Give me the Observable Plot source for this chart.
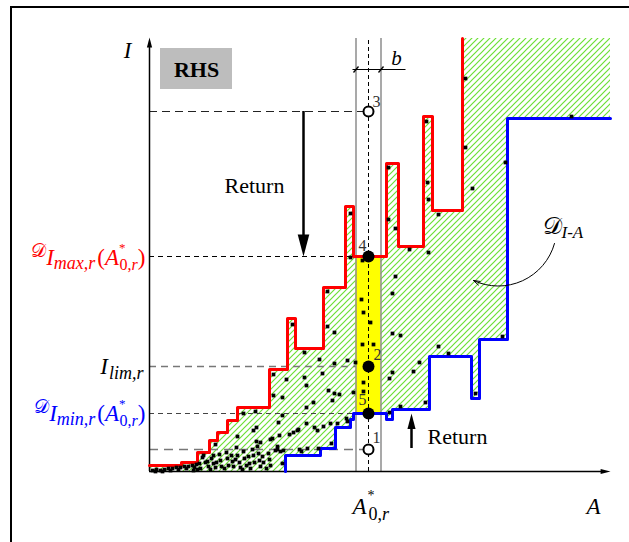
<!DOCTYPE html>
<html><head><meta charset="utf-8">
<script src="https://cdn.jsdelivr.net/npm/d3@7"></script>
<script src="https://cdn.jsdelivr.net/npm/@observablehq/plot@0.6"></script>
<style>
html,body{margin:0;padding:0;background:#fff;}
#wrap{position:relative;width:629px;height:542px;overflow:hidden;background:#fff;}
#chart{position:absolute;left:0;top:0;}
#border{position:absolute;left:10px;top:6px;width:700px;height:700px;border:2px solid #000;box-sizing:border-box;pointer-events:none;}
</style></head><body>
<div id="wrap"><div id="chart"></div><div id="border"></div></div>
<script>
// ---- data (A, I in diagram units) ----
const A0 = 219;          // A*_{0,r}
const bWidth = 25;       // band width b
const Imax = 215, Ilim = 105, Imin = 58, I3 = 360, I1 = 22;
const Atop = 433, Aend = 461;
const Idim = 402;        // level of the b dimension line

const redSteps = [[0,6],[32,9],[48,19],[60,31],[68,39],[78,51],[88,64],[120,102],[138,153],[146,123],[174,184],[196,265],[204,215],[237,308],[249,225],[274,355],[283,261],[313,433]];
const blueSteps = [[136,0],[136,16],[171,23],[186,44],[201,52],[204,58],[237,52],[243,62],[280,115],[322,73],[330,132],[358,353],[461,353]];

const dots = [
[316,393],[316,324],[277,350],[278,289],[279,272],[289,257],[260,222],[279,219],[239,304],[239,252],[246,243],[246,195],
[201,258],[201,214],[213,211],[323,283],[356,309],[422,355],[243,178],[243,138],[251,136],[289,125],[299,118],[353,135],
[270,109],[264,100],[243,99],[240,93],[326,78],[276,69],[251,65],[240,59],[178,180],[143,147],[178,145],[185,139],
[155,119],[170,112],[185,108],[198,111],[206,109],[212,172],[214,159],[221,149],[213,127],[224,127],[214,89],[214,80],
[124,97],[137,92],[155,94],[157,86],[173,98],[179,81],[185,78],[190,77],[183,71],[204,79],[164,69],[157,64],
[124,76],[133,74],[106,60],[94,58],[133,56],[129,49],[157,48],[149,42],[165,44],[168,41],[174,45],[181,48],[188,48],
[197,53],[198,50],[140,37],[144,39],[148,41],[130,36],[123,33],[128,25],[126,21],[131,20],[134,21],[150,22],[152,20],
[158,23],[169,23],[182,28],[133,8],[107,44],[88,35],[87,24],[77,19],[66,27],[64,16],[107,30],[111,29],[121,32],[128,22],
[70,17],[53,14],[104,41],
[54,16],[56,9],[59,5],[62,13],[64,8],[66,4],[71,11],[72,5],[78,13],[79,6],[82,16],[83,10],[84,5],[88,16],[90,9],[91,4],
[94,20],[95,13],[97,6],[99,15],[100,8],[103,22],[104,16],[105,9],[108,25],[109,18],[110,11],[111,5],[113,15],[114,9],
[119,18],[120,12],[121,6],
[3,1],[7,2],[11,1],[15,2],[19,3],[23,3],[27,4],[31,4],[35,5],[39,5],[43,6],[47,7],[50,8],[6,0],[13,0],[21,1],[29,2],
[37,3],[45,4],[51,3],[48,2],[44,1],[58,10],[61,2],[67,9],[75,3],[86,12],[93,2],[101,3],[117,3]
];

const openPoints = [{I: I3}, {I: I1}];
const filledPoints = [{I: Imax}, {I: Ilim}, {I: Imin}];
const pointLabels = [
  {A: 227, I: 370, t: "3"}, {A: 213, I: 226, t: "4"}, {A: 228, I: 117, t: "2"},
  {A: 213, I: 72, t: "5"}, {A: 227, I: 34, t: "1"}
];
const returnTop = {A: 154, from: I3, to: Imax};
const returnBottom = {A: 262, from: I1 + 1, to: Imin};
const curveArrow = [{x1: 405, y1: 228, x2: 324, y2: 191}];
const boxRHS = [{x1: 11, x2: 83, y1: 382, y2: 423}];

// rich label markup (keyed by plain text)
const D = "\u{1D49F}";
const star = `<tspan font-size="13" dy="-13">*</tspan><tspan font-size="16" dx="-6" dy="18">0,<tspan font-style="italic">r</tspan></tspan>`;
const rich = {
  "DImax": `<tspan font-size="19" dy="-8">${D}</tspan><tspan font-style="italic" font-size="23" dy="8">I</tspan><tspan font-style="italic" font-size="18" dy="4">max,r</tspan><tspan font-size="23" dy="-4" dx="2">(</tspan><tspan font-style="italic" font-size="23">A</tspan>${star}<tspan font-size="23" dy="-5">)</tspan>`,
  "DImin": `<tspan font-size="19" dy="-8">${D}</tspan><tspan font-style="italic" font-size="23" dy="8">I</tspan><tspan font-style="italic" font-size="18" dy="4">min,r</tspan><tspan font-size="23" dy="-4" dx="2">(</tspan><tspan font-style="italic" font-size="23">A</tspan>${star}<tspan font-size="23" dy="-5">)</tspan>`,
  "Ilim": `<tspan font-style="italic" font-size="23">I</tspan><tspan font-style="italic" font-size="18" dy="5" dx="1">lim,r</tspan>`,
  "A0r": `<tspan font-style="italic" font-size="23">A</tspan><tspan font-size="14" dy="-14" dx="1">*</tspan><tspan font-size="18" dx="-6" dy="20">0,<tspan font-style="italic">r</tspan></tspan>`,
  "DIA": `<tspan font-size="24">${D}</tspan><tspan font-style="italic" font-size="17" dy="4">I-A</tspan>`
};

const labels = [
  {A: -4, I: 207, t: "DImax", anchor: "end", color: "#ff0000"},
  {A: -6, I: 98, t: "Ilim", anchor: "end", color: "#000"},
  {A: -4, I: 51, t: "DImin", anchor: "end", color: "#0000ff"},
  {A: 203, I: -42, t: "A0r", anchor: "start", color: "#000"},
  {A: 393, I: 238, t: "DIA", anchor: "start", color: "#000"}
];

// ---- derived: hatched domain between the two step boundaries ----
function stepVal(steps, a, dflt) { let v = dflt; for (const [x, y] of steps) if (x <= a) v = y; return v; }
const xs = Array.from(new Set([0, Aend, ...redSteps.map(d => d[0]), ...blueSteps.map(d => d[0])])).sort((p, q) => p - q);
const hatch = xs.map(a => ({a, lo: stepVal(blueSteps, a, 0), hi: stepVal(redSteps, a, 0)}));

// arrow head symbol (tip at origin, pointing down)
const headSym = {draw(ctx, size) { const r = Math.sqrt(size / Math.PI); const L = r * 2.2, w = r * 0.58; ctx.moveTo(0, 0); ctx.lineTo(-w, -L); ctx.lineTo(w, -L); ctx.closePath(); }};

const serif = "Liberation Serif, Times New Roman, serif";
const bandL = A0 - bWidth / 2, bandR = A0 + bWidth / 2;

const plot = Plot.plot({
  width: 629, height: 542,
  marginLeft: 149, marginRight: 19, marginTop: 38, marginBottom: 71,
  x: {domain: [0, Aend], axis: null},
  y: {domain: [0, Atop], axis: null},
  style: {fontFamily: serif, background: "transparent"},
  marks: [
    Plot.areaY(hatch, {x: "a", y1: "lo", y2: "hi", curve: "step-after", fill: "url(#hatch)"}),
    Plot.rect([{x1: bandL, x2: bandR, y1: Imin, y2: Imax}], {x1: "x1", x2: "x2", y1: "y1", y2: "y2", fill: "#ffff00"}),
    Plot.ruleX([bandL, bandR], {y1: 0, y2: Atop, stroke: "#8c8c8c", strokeWidth: 1.5}),
    Plot.ruleX([A0], {y1: 0, y2: Atop, stroke: "#000", strokeWidth: 1, strokeDasharray: "4,3"}),
    Plot.ruleY([I3], {x1: 0, x2: A0 - 5, stroke: "#222", strokeWidth: 1, strokeDasharray: "8,5"}),
    Plot.ruleY([Imax], {x1: 0, x2: A0, stroke: "#000", strokeWidth: 1, strokeDasharray: "5,4"}),
    Plot.ruleY([Ilim], {x1: 0, x2: bandL, stroke: "#777", strokeWidth: 1.3, strokeDasharray: "7,5"}),
    Plot.ruleY([Imin], {x1: 0, x2: A0, stroke: "#444", strokeWidth: 1.2, strokeDasharray: "5,4"}),
    Plot.ruleY([I1], {x1: 0, x2: A0 - 5, stroke: "#777", strokeWidth: 1.3, strokeDasharray: "9,6"}),
    // axes
    Plot.ruleX([0], {y1: 0, y2: Atop - 6, stroke: "#000", strokeWidth: 1.5}),
    Plot.ruleY([0], {x1: 0, x2: Aend - 6, stroke: "#000", strokeWidth: 1.5}),
    Plot.dot([{x: 0, y: Atop + 1}], {x: "x", y: "y", symbol: headSym, r: 4.5, rotate: 180, fill: "#000", stroke: "none"}),
    Plot.dot([{x: Aend, y: 0}], {x: "x", y: "y", symbol: headSym, r: 4.5, rotate: -90, fill: "#000", stroke: "none"}),
    // boundaries
    Plot.line(redSteps, {x: d => d[0], y: d => d[1], curve: "step-after", stroke: "#ff0000", strokeWidth: 3}),
    Plot.line(blueSteps, {x: d => d[0], y: d => d[1], curve: "step-after", stroke: "#0000ff", strokeWidth: 3}),
    // data points
    Plot.dot(dots, {x: d => d[0], y: d => d[1], symbol: "square", r: 2.1, fill: "#000", stroke: "none"}),
    // key points
    Plot.dot(openPoints, {x: () => A0, y: "I", r: 5, fill: "#fff", stroke: "#000", strokeWidth: 2}),
    Plot.dot(filledPoints, {x: () => A0, y: "I", r: 6, fill: "#000", stroke: "none"}),
    Plot.text(pointLabels, {x: "A", y: "I", text: "t", fontSize: 16, fill: "#333"}),
    // return arrows
    Plot.ruleX([returnTop.A], {y1: returnTop.from, y2: returnTop.to + 18, stroke: "#000", strokeWidth: 2.5}),
    Plot.dot([returnTop], {x: "A", y: "to", symbol: headSym, r: 10, fill: "#000", stroke: "none"}),
    Plot.ruleX([returnBottom.A], {y1: returnBottom.from, y2: returnBottom.to - 12, stroke: "#000", strokeWidth: 2.5}),
    Plot.dot([returnBottom], {x: "A", y: "to", symbol: headSym, r: 7, rotate: 180, fill: "#000", stroke: "none"}),
    Plot.text(["Return"], {x: 105, y: 286, text: d => d, fontSize: 22}),
    Plot.text(["Return"], {x: 278, y: 35, text: d => d, fontSize: 22, textAnchor: "start"}),
    // b dimension
    Plot.ruleY([Idim], {x1: bandL - 3, x2: bandR + 25, stroke: "#000", strokeWidth: 1}),
    Plot.link([bandL, bandR], {x1: d => d - 2.5, y1: Idim - 3, x2: d => d + 2.5, y2: Idim + 3, stroke: "#000", strokeWidth: 1.3}),
    Plot.text(["b"], {x: 247, y: 413, text: d => d, fontSize: 21, fontStyle: "italic"}),
    // RHS box
    Plot.rect(boxRHS, {x1: "x1", x2: "x2", y1: "y1", y2: "y2", fill: "#bdbdbd"}),
    Plot.text(["RHS"], {x: 47, y: 402, text: d => d, fontSize: 22, fontWeight: "bold"}),
    // axis labels
    Plot.text(["I"], {x: -22, y: 421, text: d => d, fontSize: 23, fontStyle: "italic"}),
    Plot.text(["A"], {x: 444, y: -35, text: d => d, fontSize: 23, fontStyle: "italic"}),
    // curved arrow to the domain
    Plot.arrow(curveArrow, {x1: "x1", y1: "y1", x2: "x2", y2: "y2", bend: 50, stroke: "#000", strokeWidth: 1, headLength: 10, headAngle: 35}),
    // rich labels
    ...labels.map(l => Plot.text([l], {x: "A", y: "I", text: "t", textAnchor: l.anchor, lineAnchor: "bottom", fill: l.color, fontSize: 23}))
  ]
});

// hatch pattern
d3.select(plot).insert("defs", ":first-child").html(
  `<pattern id="hatch" patternUnits="userSpaceOnUse" width="6" height="6">
     <path d="M-1,7 L7,-1 M-1,1 L1,-1 M5,7 L7,5" stroke="#6bdf35" stroke-width="1.2" fill="none"/>
   </pattern>`);
d3.select(plot).selectAll("text").each(function () {
  const h = rich[this.textContent];
  if (h) this.innerHTML = h;
});
document.getElementById("chart").appendChild(plot);
</script>
</body></html>
